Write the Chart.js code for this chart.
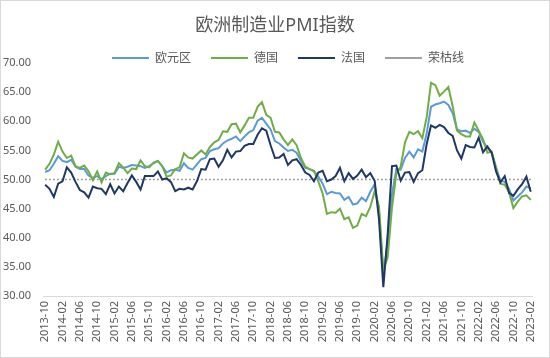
<!DOCTYPE html>
<html>
<head>
<meta charset="utf-8">
<script src="https://cdn.jsdelivr.net/npm/chart.js@4/dist/chart.umd.min.js"></script>
<style>
  html, body { margin: 0; padding: 0; background: #fff; }
  #wrap { position: relative; width: 550px; height: 358px; box-sizing: border-box; border: 1px solid #d9d9d9; }
  canvas { display: block; }
</style>
</head>
<body>
<div id="wrap"><canvas id="c" width="548" height="356"></canvas></div>
<script>
// Months 2013-10 .. 2023-02
const months = [];
for (let y = 2013, m = 10; y < 2023 || (y === 2023 && m <= 2); ) {
  months.push(y + '-' + String(m).padStart(2, '0'));
  m++; if (m > 12) { m = 1; y++; }
}

const seriesNames = ['欧元区', '德国', '法国', '荣枯线'];

const eurozone = [
  51.3, 51.6, 52.7,
  54.0, 53.2, 53.0, 53.4, 52.2, 51.8, 51.8, 50.7, 50.3, 50.6, 50.1, 50.6,
  51.0, 51.0, 52.2, 52.0, 52.2, 52.5, 52.4, 52.3, 52.0, 52.3, 52.8, 53.2,
  52.3, 51.2, 51.6, 51.7, 51.5, 52.8, 52.0, 51.7, 52.6, 53.5, 53.7, 54.9,
  55.2, 55.4, 56.2, 56.7, 57.0, 57.4, 56.6, 57.4, 58.1, 58.5, 60.1, 60.6,
  59.6, 58.6, 56.6, 56.2, 55.5, 54.9, 55.1, 54.6, 53.2, 52.0, 51.8, 51.4,
  50.5, 49.3, 47.5, 47.9, 47.7, 47.6, 46.5, 47.0, 45.7, 45.9, 46.9, 46.3,
  47.9, 49.2, 44.5, 33.4, 39.4, 47.4, 51.8, 51.7, 53.7, 54.8, 53.8, 55.2,
  54.8, 57.9, 62.5, 62.9, 63.1, 63.4, 62.8, 61.4, 58.6, 58.3, 58.4, 58.0,
  58.7, 58.2, 56.5, 55.5, 54.6, 52.1, 49.8, 49.6, 48.4, 46.4, 47.1, 47.8,
  48.8, 48.5
];

const germany = [
  51.7, 52.7, 54.3,
  56.5, 54.8, 53.7, 54.1, 52.3, 52.0, 52.4, 51.4, 49.9, 51.4, 49.5, 51.2,
  50.9, 51.1, 52.8, 52.1, 51.1, 51.9, 51.8, 53.3, 52.3, 52.1, 52.9, 53.2,
  52.3, 50.5, 50.7, 51.8, 52.1, 54.5, 53.8, 53.6, 54.3, 55.0, 54.3, 55.6,
  56.4, 56.8, 58.3, 58.2, 59.5, 59.6, 58.1, 59.3, 60.6, 60.6, 62.5, 63.3,
  61.1, 60.6, 58.2, 58.1, 56.9, 55.9, 56.9, 55.9, 53.7, 52.2, 51.8, 51.5,
  49.7, 47.6, 44.1, 44.4, 44.3, 45.0, 43.2, 43.5, 41.7, 42.1, 44.1, 43.7,
  45.3, 48.0, 45.4, 34.5, 36.6, 45.2, 51.0, 52.2, 56.4, 58.2, 57.8, 58.3,
  57.1, 60.7, 66.6, 66.2, 64.4, 65.1, 65.9, 62.6, 58.4, 57.8, 57.4, 57.4,
  59.8, 58.4, 56.9, 54.6, 54.8, 52.0, 49.3, 49.1, 47.8, 45.1, 46.2, 47.1,
  47.3, 46.5
];

const france = [
  49.1, 48.4, 47.0,
  49.3, 49.7, 52.1, 51.2, 49.6, 48.2, 47.8, 46.9, 48.8, 48.5, 48.4, 47.5,
  49.2, 47.6, 48.8, 48.0, 49.4, 50.7, 49.6, 48.3, 50.6, 50.6, 50.6, 51.4,
  50.0, 50.2, 49.6, 48.0, 48.4, 48.3, 48.6, 48.3, 49.7, 51.8, 51.7, 53.5,
  53.6, 52.2, 53.3, 55.1, 53.8, 54.8, 54.9, 55.8, 56.1, 56.1, 57.7, 58.8,
  58.4, 55.9, 53.7, 53.8, 54.4, 52.5, 53.3, 53.5, 52.5, 51.2, 50.8, 49.7,
  51.2, 51.5, 49.7, 50.0, 50.6, 52.0, 49.7, 51.1, 50.1, 50.7, 51.7, 50.4,
  51.1, 49.8, 43.2, 31.5, 40.6, 52.3, 52.4, 49.8, 51.2, 51.3, 49.6, 51.1,
  51.6, 56.1, 59.3, 58.9, 59.4, 59.0, 58.0, 57.5, 55.0, 53.6, 55.9, 55.6,
  55.5, 57.2, 54.7, 55.7, 54.6, 51.4, 49.5, 50.6, 47.7, 47.2, 48.3, 49.2,
  50.5, 47.9
];

const boomBustLevel = 50;
const boomBust = months.map(() => boomBustLevel);

const yTicks = [30, 35, 40, 45, 50, 55, 60, 65, 70];

const FONT = '"Noto Sans", "Noto Sans CJK SC", sans-serif';
const TXT = '#595959';

new Chart(document.getElementById('c'), {
  type: 'line',
  data: {
    labels: months,
    datasets: [
      { label: seriesNames[0], data: eurozone, borderColor: '#5b9bd5', borderWidth: 2, pointRadius: 0, tension: 0, order: 3 },
      { label: seriesNames[1], data: germany, borderColor: '#70ad47', borderWidth: 2, pointRadius: 0, tension: 0, order: 2 },
      { label: seriesNames[2], data: france, borderColor: '#203864', borderWidth: 2, pointRadius: 0, tension: 0, order: 1 },
      { label: seriesNames[3], data: boomBust, borderColor: '#7f7f7f', borderWidth: 1.5, borderDash: [1.5, 2.5], pointRadius: 0, order: 4 }
    ]
  },
  options: {
    responsive: false,
    animation: false,
    events: [],
    layout: { padding: { left: 2, right: 2, top: 0, bottom: 12 } },
    plugins: {
      title: {
        display: true,
        text: '欧洲制造业PMI指数',
        color: TXT,
        font: { family: FONT, size: 18, weight: 'normal' },
        padding: { top: 14.5, bottom: -5 }
      },
      legend: {
        display: true,
        fullSize: false,
        maxHeight: 31,
        labels: {
          usePointStyle: true,
          pointStyle: 'line',
          pointStyleWidth: 37,
          boxHeight: 12,
          padding: 20,
          color: TXT,
          font: { family: FONT, size: 12 },
          sort: function(a, b) { return a.datasetIndex - b.datasetIndex; }
        }
      },
      tooltip: { enabled: false }
    },
    scales: {
      x: {
        offset: true,
        grid: { display: false, drawTicks: false },
        border: { display: true, color: '#d9d9d9', width: 1 },
        ticks: {
          autoSkip: false,
          maxRotation: 90,
          minRotation: 90,
          color: TXT,
          font: { family: FONT, size: 11 },
          padding: 5,
          callback: function(v, i) { return i % 4 === 0 ? months[i] : null; }
        },
        afterFit: function(s) { s.height = 49; }
      },
      y: {
        min: 30, max: 70,
        afterBuildTicks: function(s) { s.ticks = yTicks.map(v => ({ value: v })); },
        grid: { display: false, drawTicks: false },
        border: { display: false },
        ticks: {
          color: TXT,
          font: { family: FONT, size: 11 },
          padding: 12,
          callback: function(v) { return Number(v).toFixed(2); }
        },
        afterFit: function(s) { s.width = 40; }
      },
      yRightSpace: {
        type: 'linear',
        position: 'right',
        min: 30, max: 70,
        grid: { display: false, drawTicks: false },
        border: { display: false },
        ticks: { display: false },
        afterFit: function(s) { s.width = 7; }
      }
    }
  }
});
</script>
</body>
</html>
